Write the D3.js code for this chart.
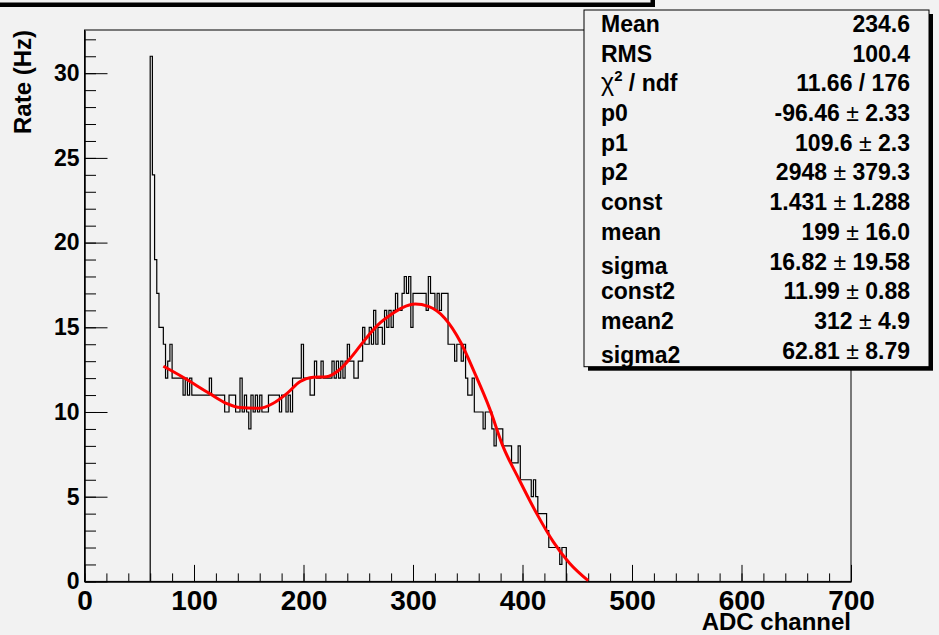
<!DOCTYPE html>
<html lang="en">
<head>
<meta charset="UTF-8">
<title>Rate vs ADC channel</title>
<script src="https://d3js.org/d3.v7.min.js"></script>
<style>
  body { margin: 0; background: #f2f2f2; }
  svg text { font-family: "Liberation Sans", Arial, sans-serif; font-weight: bold; fill: #000; }
</style>
</head>
<body>
<svg id="chart" width="939" height="635"></svg>
<script>
// histogram, 2 channels per bin, first filled bin starts at channel 60
const firstBin = 60;
const binWidth = 2;
const rates = [
  31, 24, 19, 17, 15, 15, 14, 12, 13, 14,   // 60-78
  12, 12, 12, 12, 12, 11, 12, 11, 12, 11,   // 80-98
  11, 11, 11, 11, 11, 11, 11, 12, 11, 11,   // 100-118
  11, 11, 11, 11, 10, 10, 11, 11, 11, 10,   // 120-138
  10, 12, 10, 11, 10, 9, 11, 10, 11, 10,    // 140-158
  11, 10, 10, 10, 11, 11, 11, 11, 11, 10,   // 160-178
  11, 11, 10, 11, 10, 12, 12, 12, 12, 14,   // 180-198
  12, 12, 12, 11, 11, 13, 12, 12, 13, 12,   // 200-218
  12, 12, 12, 13, 12, 13, 12, 13, 12, 13,   // 220-238
  14, 13, 13, 12, 12, 13, 13, 15, 14, 14,   // 240-258
  15, 14, 16, 14, 15, 15, 14, 16, 15, 16,   // 260-278
  15, 16, 17, 16, 16, 17, 18, 17, 18, 15,   // 280-298
  17, 17, 17, 17, 17, 17, 16, 18, 17, 17,   // 300-318
  16, 17, 16, 17, 17, 17, 14, 14, 14, 13,   // 320-338
  14, 14, 13, 14, 12, 11, 11, 12, 10, 10,   // 340-358
  10, 10, 9, 10, 10, 10, 9, 8, 9, 9,        // 360-378
  9, 8, 8, 8, 8, 7, 7, 7, 8, 6,             // 380-398
  6, 6, 6, 6, 5, 6, 5, 4, 4, 4,             // 400-418
  4, 3, 2, 2, 2, 2, 2, 1, 2, 2              // 420-438
];

// fitted curve, points
const fitX = [72, 90, 114, 130, 142, 160, 172, 185, 197, 209, 221, 232, 244, 256, 268, 280, 290, 302, 314, 329, 344, 356, 370, 382, 397, 413, 428, 443, 460];
const fitY = [12.7, 12.05, 11.1, 10.5, 10.26, 10.22, 10.5, 11.1, 11.8, 12.05, 12.08, 12.45, 13.27, 14.26, 15.14, 15.75, 16.15, 16.37, 16.23, 15.54, 14.06, 12.35, 10.2, 8.0, 6.0, 4.0, 2.35, 1.07, 0.04];

const xTicks = [0, 100, 200, 300, 400, 500, 600, 700];
const yTicks = [0, 5, 10, 15, 20, 25, 30];

const statLabels = ["Mean", "RMS", "χ2 / ndf", "p0", "p1", "p2", "const", "mean", "sigma", "const2", "mean2", "sigma2"];
const statValues = ["234.6", "100.4", "11.66 / 176", "-96.46 ± 2.33", "109.6 ± 2.3", "2948 ± 379.3",
  "1.431 ± 1.288", "199 ± 16.0", "16.82 ± 19.58", "11.99 ± 0.88", "312 ± 4.9", "62.81 ± 8.79"];

const svg = d3.select("#chart");
const frame = { left: 84.5, right: 851, top: 30, bottom: 581.4 };

const x = d3.scaleLinear().domain([0, 700]).range([frame.left, frame.right]);
const y = d3.scaleLinear().domain([0, 32.55]).range([frame.bottom, frame.top]);

svg.append("rect").attr("width", 939).attr("height", 635).attr("fill", "#f2f2f2");

// frame
svg.append("rect")
  .attr("x", frame.left).attr("y", frame.top)
  .attr("width", frame.right - frame.left).attr("height", frame.bottom - frame.top)
  .attr("fill", "none").attr("stroke", "#000").attr("stroke-width", 1);

// x axis: major + minor ticks pointing up
const xMinor = svg.append("g").attr("transform", `translate(0,${frame.bottom})`)
  .call(d3.axisBottom(x).tickValues(d3.range(0, 701, 20)).tickSize(-8).tickSizeOuter(0).tickFormat(""));
xMinor.select(".domain").remove();

const xAxis = svg.append("g").attr("transform", `translate(0,${frame.bottom})`)
  .call(d3.axisBottom(x).tickValues(xTicks).tickSize(-16.5).tickSizeOuter(0).tickPadding(9));
xAxis.select(".domain").attr("stroke-width", 1.5);
xAxis.selectAll("text").attr("font-size", 28).attr("font-family", null);

// y axis: major + minor ticks pointing right
const yMinor = svg.append("g").attr("transform", `translate(${frame.left},0)`)
  .call(d3.axisLeft(y).tickValues(d3.range(0, 33, 1)).tickSize(-11.5).tickSizeOuter(0).tickFormat(""));
yMinor.select(".domain").remove();

const yAxis = svg.append("g").attr("transform", `translate(${frame.left},0)`)
  .call(d3.axisLeft(y).tickValues(yTicks).tickSize(-23).tickSizeOuter(0).tickPadding(5));
yAxis.select(".domain").attr("stroke-width", 1.5);
yAxis.selectAll("text").attr("font-size", 23).attr("font-family", null);

svg.selectAll(".tick line").attr("stroke", "#000");

// axis titles
svg.append("text")
  .attr("x", frame.right).attr("y", 630)
  .attr("text-anchor", "end").attr("font-size", 24)
  .text("ADC channel");

svg.append("text")
  .attr("transform", `translate(31,${frame.top}) rotate(-90)`)
  .attr("text-anchor", "end").attr("font-size", 24)
  .text("Rate (Hz)");

// histogram outline
const histPts = [[firstBin, 0]];
rates.forEach((v, i) => {
  const lo = firstBin + i * binWidth;
  histPts.push([lo, v], [lo + binWidth, v]);
});
histPts.push([firstBin + rates.length * binWidth, 0]);

svg.append("path")
  .datum(histPts)
  .attr("fill", "none")
  .attr("stroke", "#000")
  .attr("stroke-width", 1.2)
  .attr("d", d3.line().x(d => x(d[0])).y(d => y(d[1])));

// fit curve
svg.append("path")
  .datum(fitX.map((v, i) => [v, fitY[i]]))
  .attr("fill", "none")
  .attr("stroke", "#ff0000")
  .attr("stroke-width", 3)
  .attr("d", d3.line().curve(d3.curveMonotoneX).x(d => x(d[0])).y(d => y(d[1])));

// title pave (cut off at the top of the canvas)
svg.append("rect").attr("x", -6).attr("y", -40).attr("width", 661).attr("height", 47).attr("fill", "#000");
svg.append("rect").attr("x", -10).attr("y", -44).attr("width", 661).attr("height", 47)
  .attr("fill", "#f2f2f2").attr("stroke", "#000").attr("stroke-width", 1);

// stats box
const box = { x: 584, y: 10, w: 345, h: 356.7 };
svg.append("rect").attr("x", box.x + 4).attr("y", box.y + 4).attr("width", box.w).attr("height", box.h).attr("fill", "#000");
svg.append("rect").attr("x", box.x).attr("y", box.y).attr("width", box.w).attr("height", box.h)
  .attr("fill", "#f2f2f2").attr("stroke", "#000").attr("stroke-width", 1);

const rowH = box.h / statLabels.length;

function addRich(sel, str) {
  // symbol glyphs (chi, plus-minus) are drawn lighter, like ROOT's Symbol font
  const parts = str.split(/(χ2|±)/).filter(s => s.length);
  let shift = 0;
  parts.forEach(p => {
    if (p === "χ2") {
      sel.append("tspan").attr("font-weight", "normal").attr("font-size", 25).text("χ");
      sel.append("tspan").attr("font-size", 15).attr("dy", -10).text("2");
      shift = 10;
    } else if (p === "±") {
      sel.append("tspan").attr("font-weight", "normal").text("±");
    } else {
      const ts = sel.append("tspan").text(p);
      if (shift) { ts.attr("dy", shift); shift = 0; }
    }
  });
}

statLabels.forEach((lab, i) => {
  const base = box.y + rowH * (i + 0.5) + 7;
  const t = svg.append("text")
    .attr("x", box.x + 17).attr("y", base + (lab.includes("g") ? 4 : 0))
    .attr("font-size", 23);
  addRich(t, lab);

  const v = svg.append("text")
    .attr("x", box.x + 326).attr("y", base)
    .attr("text-anchor", "end").attr("font-size", 23);
  addRich(v, statValues[i]);
});
</script>
</body>
</html>
